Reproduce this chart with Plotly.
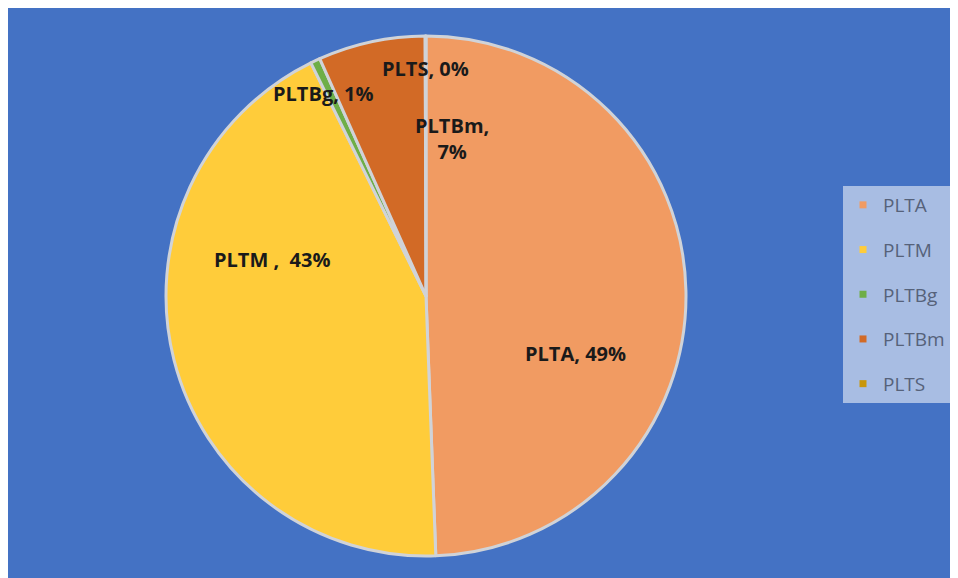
import plotly.graph_objects as go

categories = ["PLTA", "PLTM", "PLTBg", "PLTBm", "PLTS"]
values = [49.4, 43.3, 0.6, 6.65, 0.05]
label_texts = ["PLTA, 49%", "PLTM ,  43%", "PLTBg, 1%", "PLTBm,<br>7%", "PLTS, 0%"]
colors = ["#F19B62", "#FFCC3A", "#6EAE47", "#D26A26", "#C8960A"]

# page has an 8px body margin; figure drawn at offset (8, 8)
OFF = 8
W, H = 950, 570


def px(x):
    return (x - OFF) / W


def py(y):
    return 1 - (y - OFF) / H


fig = go.Figure()

fig.add_trace(go.Pie(
    labels=categories, values=values, sort=False, direction="clockwise",
    rotation=0, marker=dict(colors=colors, line=dict(color="#D0D3D8", width=3)),
    textinfo="none", hoverinfo="label+percent", showlegend=False,
    domain=dict(x=[px(166), px(686)], y=[py(556), py(36)]),
))

# legend entries
for c, col in zip(categories, colors):
    fig.add_trace(go.Scatter(
        x=[None], y=[None], mode="markers", name=c, legendgroup=c,
        marker=dict(symbol="square", size=7, color=col),
        showlegend=True,
    ))

# labels
label_pos = [(575, 353), (272, 259), (323, 93), (452, 138), (425, 68)]
for t, (lx, ly) in zip(label_texts, label_pos):
    fig.add_annotation(x=px(lx), y=py(ly), xref="paper", yref="paper",
                       xanchor="center", yanchor="middle",
                       text="<b>" + t + "</b>", showarrow=False,
                       font=dict(family="Open Sans, Liberation Sans, sans-serif", size=20, color="#1A1A1A"),
                       align="center")

fig.update_layout(
    width=W, height=H,
    margin=dict(l=0, r=0, t=0, b=0),
    paper_bgcolor="#4472C4", plot_bgcolor="rgba(0,0,0,0)",
    xaxis=dict(visible=False), yaxis=dict(visible=False),
    legend=dict(x=px(843), y=py(186), xanchor="left", yanchor="top",
                bgcolor="#A8BDE3", borderwidth=0,
                tracegroupgap=17, itemwidth=30,
                font=dict(family="Open Sans, Liberation Sans, sans-serif", size=19, color="#56627A")),
)

fig.write_html("out.html")
